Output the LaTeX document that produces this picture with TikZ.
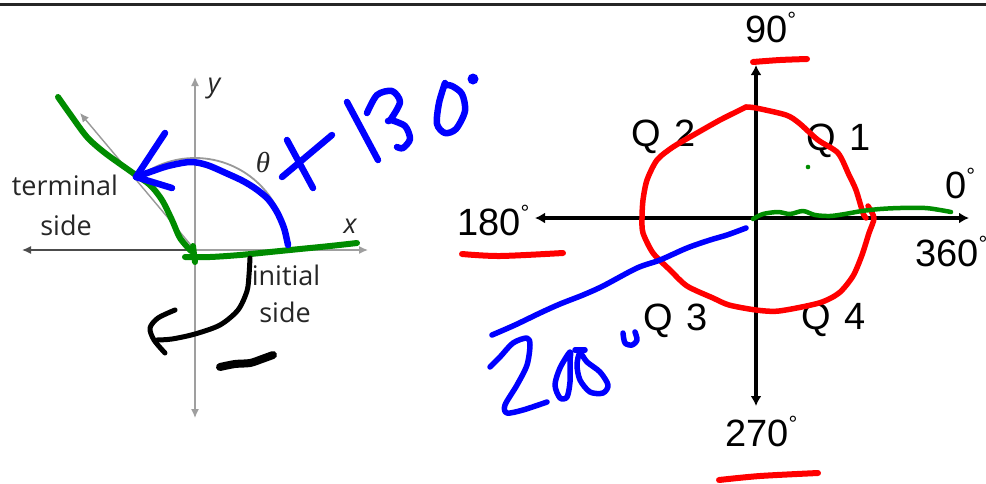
\documentclass[tikz,border=0pt]{standalone}
\usepackage{fontspec}
\setmainfont{Liberation Sans}
\newfontfamily\osans{Open Sans}
\newfontfamily\lserif{Liberation Serif}
\usetikzlibrary{arrows.meta}
\definecolor{pblue}{RGB}{0,0,255}
\definecolor{pred}{RGB}{255,0,0}
\definecolor{pgreen}{RGB}{0,140,0}
\definecolor{ltext}{RGB}{38,38,38}
\newcommand{\mydeg}{\raisebox{15pt}{\fontsize{22}{22}\selectfont °}}
\begin{document}
\begin{tikzpicture}[x=1pt,y=-1pt,
  ink/.style={line width=#1, line cap=round, line join=round},
  lbl/.style={font=\fontsize{38}{38}\selectfont, inner sep=0, anchor=base west, text=black},
  ltxt/.style={font=\osans\fontsize{27}{27}\selectfont, text=ltext, inner sep=0, anchor=base},
  litxt/.style={font=\osans\itshape\fontsize{27}{27}\selectfont, text=ltext, inner sep=0, anchor=base},
  axisL/.style={line width=1.4pt, draw=gray!75},
  axisR/.style={line width=3.2pt, draw=black},
  tipL/.style={-{Latex[length=9pt,width=8pt]}},
  tipR/.style={-{Latex[length=10pt,width=11pt]}}]
\useasboundingbox (0,0) rectangle (986,483);
\fill[white] (0,0) rectangle (986,483);

% top rule
\coordinate (ruleL) at (0,4);
\coordinate (ruleR) at (986,4);
\draw[line width=3pt, draw=black!85] (ruleL) -- (ruleR);

% ---------- left diagram ----------
\coordinate (o1) at (195,250);
\coordinate (yT) at (195,77);
\coordinate (yB) at (195,418);
\coordinate (xL) at (22,250);
\coordinate (xR) at (368,250);
\coordinate (tT) at (80,113);
\draw[axisL,tipL] (o1) -- (yT);
\draw[axisL,tipL] (o1) -- (yB);
\draw[axisL,tipL,draw=black!70] (o1) -- (xL);
\draw[axisL,tipL] (o1) -- (xR);
\draw[axisL,tipL,draw=gray!80] (o1) -- (tT);
\draw[line width=1.8pt, draw=gray!80] (o1) ++(92,0) arc[start angle=0,end angle=-130,radius=92];

\node[ltxt] (term1) at (65,195) {terminal};
\node[ltxt] (term2) at (66,235) {side};
\node[ltxt] (init1) at (286,285) {initial};
\node[ltxt] (init2) at (285,322) {side};
\node[litxt] (ylab) at (214,92) {y};
\node[litxt] (xlab) at (350,233) {x};
\node[inner sep=0, anchor=base, text=ltext, font=\lserif\itshape\fontsize{29}{29}\selectfont] (th) at (263,172) {θ};

% green strokes (left)
\draw[ink=6pt, pgreen] plot[smooth] coordinates {(58,97) (70,114) (87,137) (105,153) (133,173) (150,185) (162,200) (172,220) (180,238) (191,251)};
\draw[ink=6pt, pgreen] plot[smooth] coordinates {(185,257) (210,257) (240,255) (270,252) (300,249) (330,246) (357,243)};
\draw[ink=6pt, pgreen] (193,246) -- (195,262);

% blue arc with arrow (left)
\draw[ink=6.5pt, pblue] plot[smooth] coordinates {(288,245) (284,228) (277,212) (268,199) (256,189) (243,181) (228,174) (207,165) (190,162) (168,166) (150,172) (136,177)};
\draw[ink=6.5pt, pblue] (165,133) -- (136,177) -- (172,188);

% blue "+130°"
\draw[ink=6.5pt, pblue] (282,177) -- (332,135);
\draw[ink=6.5pt, pblue] (287,140) -- (313,188);
\draw[ink=6.5pt, pblue] (347,102) -- (378,160);
\draw[ink=6.5pt, pblue] plot[smooth] coordinates {(367,113) (377,95) (392,91) (400,102) (391,119) (388,121)};
\draw[ink=6.5pt, pblue] plot[smooth] coordinates {(391,120) (405,126) (410,139) (403,148) (397,147)};
\draw[ink=6.5pt, pblue] plot[smooth] coordinates {(445,83) (439,103) (437,124) (445,133) (456,129) (465,111) (462,94) (452,86) (445,85)};
\fill[pblue] (473,79) circle[radius=5.5];

% black stroke and minus (left)
\draw[ink=5pt, black] plot[smooth] coordinates {(250,258) (249,275) (247,291) (238,310) (220,325) (195,334) (172,339) (157,340)};
\draw[ink=5pt, black] plot[smooth] coordinates {(175,310) (158,318) (150,328) (154,340) (165,353)};
\draw[ink=8pt, black] plot[smooth] coordinates {(220,367) (235,364) (250,363) (262,359) (273,355)};

% ---------- right diagram ----------
\coordinate (o2) at (756,218);
\coordinate (vT) at (756,65);
\coordinate (vB) at (756,406);
\coordinate (hL) at (535,218);
\coordinate (hR) at (969,218);
\draw[axisR,tipR] (o2) -- (vT);
\draw[axisR,tipR] (o2) -- (vB);
\draw[axisR,tipR] (o2) -- (hL);
\draw[axisR,tipR] (o2) -- (hR);

\node[lbl] (l90) at (745,42) {90\mydeg};
\node[lbl] (l180) at (457,235) {180\mydeg};
\node[lbl] (l0) at (945,198) {0\mydeg};
\node[lbl] (l360) at (915,266) {360\mydeg};
\node[lbl] (l270) at (725,446) {270\mydeg};
\node[lbl] (q1) at (806,150) {Q\hspace{3pt} 1};
\node[lbl] (q2) at (631,146) {Q\hspace{3pt} 2};
\node[lbl] (q3) at (643,330) {Q\hspace{3pt} 3};
\node[lbl] (q4) at (801,329) {Q\hspace{3pt} 4};

% red circle
\draw[ink=5.5pt, pred] plot[smooth, tension=0.45] coordinates {(746,107) (756,108) (786,115) (799,123) (818,140) (838,153) (849,175) (856,190) (863,213) (866,218)};
\draw[ink=5.5pt, pred] plot[smooth, tension=0.45] coordinates {(868,206) (874,218) (869,233) (862,255) (853,276) (839,293) (819,303) (779,311) (756,310) (729,305) (713,298) (687,286) (670,270) (653,253) (643,233) (642,218) (643,200) (647,180) (657,160) (673,147) (697,133) (720,120) (740,110) (746,107)};

% red underlines
\draw[ink=6pt, pred] plot[smooth] coordinates {(753,62) (780,60) (807,59)};
\draw[ink=6pt, pred] plot[smooth] coordinates {(462,254) (500,256) (563,253)};
\draw[ink=6pt, pred] plot[smooth] coordinates {(719,480) (760,476) (818,473)};

% green stroke (right)
\draw[ink=4.5pt, pgreen] plot[smooth] coordinates {(753,219) (763,214) (778,212) (790,214) (803,211) (815,215) (830,216) (845,214) (862,211) (880,209) (900,208) (925,208) (940,210) (951,212)};
\fill[pgreen] (808,167) circle[radius=2.3];

% blue line and "200°" (right)
\draw[ink=5.5pt, pblue] plot[smooth] coordinates {(492,335) (515,325) (540,313) (560,304) (583,295) (603,286) (637,268) (660,260) (687,248) (710,240) (727,235) (746,228)};
\draw[ink=5.5pt, pblue] plot[smooth] coordinates {(490,367) (500,357) (513,343) (527,338) (530,345) (527,365) (517,385) (505,405) (507,413) (523,410) (547,402)};
\draw[ink=5.5pt, pblue] plot[smooth cycle] coordinates {(570,352) (560,368) (555,385) (560,398) (567,397) (570,382) (570,362)};
\draw[ink=5.5pt, pblue] (575,350) -- (585,350);
\draw[ink=5.5pt, pblue] plot[smooth cycle] coordinates {(580,353) (577,365) (580,380) (590,392) (603,393) (608,385) (600,372) (587,362)};
\draw[ink=5.5pt, pblue] plot[smooth] coordinates {(623,333) (625,343) (632,345) (637,340) (635,332)};
\end{tikzpicture}
\end{document}
